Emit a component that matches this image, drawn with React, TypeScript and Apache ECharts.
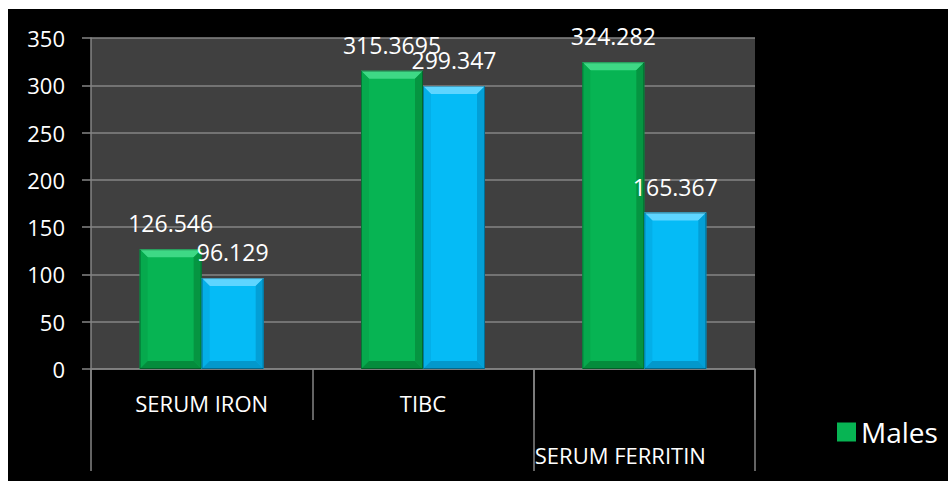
import React, { useEffect, useRef } from "react";
import * as echarts from "echarts";

const categories = ["SERUM IRON", "TIBC", "SERUM FERRITIN"];
const malesValues = [126.546, 315.3695, 324.282];
const femalesValues = [96.129, 299.347, 165.367];
const yTicks = { min: 0, max: 350, interval: 50 };

const FONT = "'Open Sans', 'Liberation Sans', sans-serif";
const BAR_W = 62;
const BEVEL = 8;

const GREEN = { main: "#07b453", top: "#3ed985", left: "#06a94d", right: "#059541", bottom: "#048c3c" };
const CYAN = { main: "#05bbf6", top: "#5ed5ff", left: "#04afe8", right: "#039fd6", bottom: "#0398cc" };

function makeRender(side: number, c: any) {
  return (params: any, api: any) => {
    const idx = api.value(0);
    const val = api.value(1);
    const p0 = api.coord([idx, 0]);
    const p1 = api.coord([idx, val]);
    const x0 = side < 0 ? p0[0] - BAR_W : p0[0];
    const x1 = x0 + BAR_W;
    const yT = p1[1];
    const yB = p0[1];
    const b = BEVEL;
    return {
      type: "group",
      children: [
        { type: "rect", shape: { x: x0, y: yT, width: BAR_W, height: yB - yT }, style: { fill: c.main } },
        { type: "polygon", shape: { points: [[x0, yT], [x1, yT], [x1 - b, yT + b], [x0 + b, yT + b]] }, style: { fill: c.top } },
        { type: "polygon", shape: { points: [[x0, yT], [x0 + b, yT + b], [x0 + b, yB - b], [x0, yB]] }, style: { fill: c.left } },
        { type: "polygon", shape: { points: [[x1, yT], [x1 - b, yT + b], [x1 - b, yB - b], [x1, yB]] }, style: { fill: c.right } },
        { type: "polygon", shape: { points: [[x0, yB], [x0 + b, yB - b], [x1 - b, yB - b], [x1, yB]] }, style: { fill: c.bottom } },
        { type: "rect", shape: { x: x0 + 0.5, y: yT + 0.5, width: BAR_W - 1, height: yB - yT - 1 }, style: { fill: "none", stroke: "rgba(0,0,0,0.3)", lineWidth: 1 } },
        {
          type: "text",
          style: {
            text: String(val),
            x: (x0 + x1) / 2,
            y: yT - 26,
            align: "center",
            verticalAlign: "middle",
            fill: "#ffffff",
            font: `23px ${FONT}`,
          },
        },
      ],
    };
  };
}

export default function App() {
  const ref = useRef<HTMLDivElement>(null);
  useEffect(() => {
    if (!ref.current) return;
    const chart = echarts.init(ref.current, undefined, { renderer: "svg" });
    const catData = categories.map((c, i) =>
      i === 2 ? { value: c, textStyle: { padding: [52, 48, 0, 0] } } : c
    );
    chart.setOption({
      animation: false,
      backgroundColor: "#000000",
      grid: { left: 83, top: 29, right: 193, bottom: 112, show: true, backgroundColor: "#404040", borderWidth: 0 },
      legend: {
        data: ["Males"],
        left: 824,
        top: 404,
        itemWidth: 19,
        itemHeight: 19,
        icon: "rect",
        textStyle: { color: "#ffffff", fontSize: 28, fontFamily: FONT },
      },
      xAxis: [
        {
          type: "category",
          data: catData,
          gridIndex: 0,
          axisLine: { show: true, lineStyle: { color: "#858585", width: 1.5 } },
          axisTick: { show: true, length: 102, interval: (i: number) => i !== 1, lineStyle: { color: "#858585", width: 1.5 } },
          axisLabel: { interval: 0, color: "#ffffff", fontSize: 22, fontFamily: FONT, margin: 23 },
          splitLine: { show: false },
        },
        {
          type: "category",
          data: categories,
          gridIndex: 0,
          position: "bottom",
          axisLine: { show: false },
          axisTick: { show: true, length: 51, interval: 0, lineStyle: { color: "#858585", width: 1.5 } },
          axisLabel: { show: false },
          splitLine: { show: false },
        },
      ],
      yAxis: {
        type: "value",
        min: yTicks.min,
        max: yTicks.max,
        interval: yTicks.interval,
        axisLine: { show: true, lineStyle: { color: "#858585", width: 1.5 } },
        axisTick: { show: true, length: 9, lineStyle: { color: "#858585", width: 1.5 } },
        axisLabel: { color: "#ffffff", fontSize: 22, fontFamily: FONT, margin: 26 },
        splitLine: { show: true, lineStyle: { color: "#858585", width: 1.5 } },
      },
      series: [
        {
          name: "Males",
          type: "custom",
          xAxisIndex: 0,
          itemStyle: { color: GREEN.main },
          encode: { x: 0, y: 1 },
          data: malesValues.map((v, i) => [i, v]),
          renderItem: makeRender(-1, GREEN),
        },
        {
          name: "Females",
          type: "custom",
          xAxisIndex: 0,
          itemStyle: { color: CYAN.main },
          encode: { x: 0, y: 1 },
          data: femalesValues.map((v, i) => [i, v]),
          renderItem: makeRender(1, CYAN),
        },
      ],
    });
    return () => chart.dispose();
  }, []);
  return (
    <div
      ref={ref}
      style={{ position: "fixed", left: 8, top: 9, width: 940, height: 472, background: "#000" }}
    />
  );
}
